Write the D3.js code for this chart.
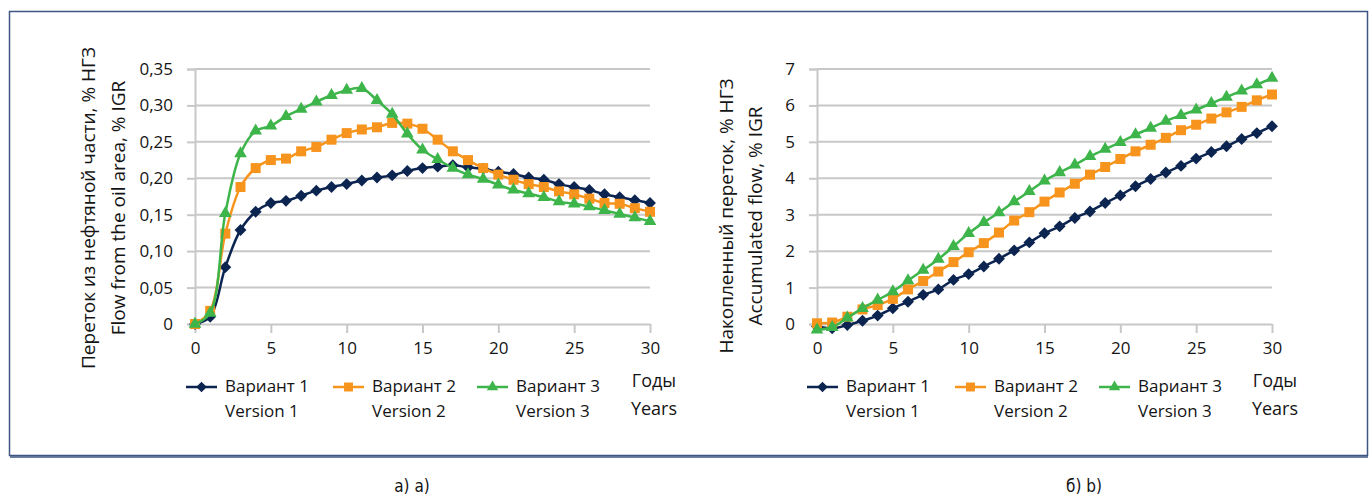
<!DOCTYPE html>
<html>
<head>
<meta charset="utf-8">
<script src="https://cdn.jsdelivr.net/npm/d3@7"></script>
<style>
  body { margin: 0; background: #fff; }
  text { font-family: "Open Sans", sans-serif; fill: #141414; }
</style>
</head>
<body>
<svg id="chart"></svg>
<script>
/** Data */
const years = [0,1,2,3,4,5,6,7,8,9,10,11,12,13,14,15,16,17,18,19,20,21,22,23,24,25,26,27,28,29,30];

// panel a) - flow from the oil area, % IGR
const flowV1 = [0,0.010,0.078,0.129,0.154,0.166,0.169,0.176,0.183,0.188,0.192,0.197,0.201,0.204,0.210,0.214,0.216,0.218,0.215,0.213,0.209,0.206,0.201,0.198,0.192,0.188,0.184,0.178,0.174,0.170,0.166];
const flowV2 = [0,0.018,0.124,0.188,0.214,0.225,0.227,0.237,0.243,0.253,0.262,0.267,0.270,0.276,0.275,0.268,0.253,0.237,0.225,0.214,0.205,0.198,0.192,0.188,0.182,0.178,0.172,0.166,0.165,0.159,0.154];
const flowV3 = [0,0.015,0.152,0.234,0.265,0.272,0.285,0.295,0.305,0.314,0.321,0.3235,0.307,0.288,0.261,0.239,0.226,0.214,0.205,0.199,0.191,0.184,0.179,0.174,0.168,0.165,0.161,0.156,0.151,0.146,0.141];

// panel b) - accumulated flow, % IGR
const accV1 = [-0.07,-0.12,-0.03,0.09,0.23,0.43,0.61,0.80,0.95,1.21,1.37,1.58,1.79,2.02,2.24,2.49,2.68,2.91,3.09,3.32,3.53,3.78,3.98,4.16,4.34,4.54,4.72,4.88,5.08,5.24,5.43];
const accV2 = [0.02,0.04,0.20,0.40,0.52,0.69,0.95,1.18,1.44,1.70,1.97,2.22,2.51,2.84,3.07,3.36,3.61,3.85,4.10,4.31,4.53,4.74,4.92,5.11,5.32,5.47,5.64,5.81,5.96,6.14,6.30];
const accV3 = [-0.16,-0.09,0.17,0.43,0.66,0.89,1.19,1.48,1.78,2.13,2.49,2.79,3.06,3.36,3.64,3.93,4.16,4.37,4.60,4.80,4.99,5.20,5.38,5.57,5.73,5.88,6.06,6.23,6.40,6.57,6.75];

const xTicks = [0,5,10,15,20,25,30];
const flowTicks = [0,0.05,0.10,0.15,0.20,0.25,0.30,0.35];
const accTicks = [0,1,2,3,4,5,6,7];

const legendRu = ['Вариант 1', 'Вариант 2', 'Вариант 3'];
const legendEn = ['Version 1', 'Version 2', 'Version 3'];
const colors = ['#0c2550', '#f7941d', '#3db54a'];

/** Canvas */
const width = 1372;
const height = 496;
const svg = d3.select('#chart').attr('width', width).attr('height', height);

// outer frame
svg.append('rect')
    .attr('x', 9.5).attr('y', 11.5)
    .attr('width', 1358).attr('height', 444)
    .attr('fill', 'none')
    .attr('stroke', '#3d5683')
    .attr('stroke-width', 1.5);
svg.append('line')
    .attr('x1', 10).attr('x2', 1368)
    .attr('y1', 457).attr('y2', 457)
    .attr('stroke', '#3d5683')
    .attr('stroke-width', 1.5);

const symbols = [d3.symbolDiamond2, d3.symbolSquare, d3.symbolTriangle];
const symbolSizes = [90, 100, 70];

/** One panel */
const drawPanel = (p) => {
    const g = svg.append('g');

    const xScale = d3.scaleLinear().domain([0, 30]).range([p.left, p.left + 455]);
    const yScale = d3.scaleLinear().domain(p.yDomain).range([324, 69]);

    // grid
    g.append('g')
        .selectAll('line')
        .data(p.yTicks.slice(1))
        .enter()
        .append('line')
        .attr('x1', p.left).attr('x2', p.left + 455)
        .attr('y1', d => yScale(d)).attr('y2', d => yScale(d))
        .attr('stroke', '#c8c8c8')
        .attr('stroke-width', 2);

    // y axis
    const yAxis = d3.axisLeft(yScale)
        .tickValues(p.yTicks)
        .tickSize(8)
        .tickPadding(p.yPad)
        .tickFormat(p.yFormat);
    const ya = g.append('g')
        .attr('transform', `translate(${p.left}, 0)`)
        .call(yAxis);
    ya.selectAll('path, line').attr('stroke', '#c8c8c8').attr('stroke-width', 2);
    ya.selectAll('text').style('font-size', '17px').attr('fill', '#141414');

    // x axis
    const xAxis = d3.axisBottom(xScale)
        .tickValues(xTicks)
        .tickSize(9)
        .tickPadding(9)
        .tickSizeOuter(0);
    const xa = g.append('g')
        .attr('transform', 'translate(0, 324)')
        .call(xAxis);
    xa.selectAll('path, line').attr('stroke', '#c8c8c8').attr('stroke-width', 2);
    xa.selectAll('text').style('font-size', '17px').attr('fill', '#141414');

    // series
    const line = d3.line()
        .x((d, i) => xScale(years[i]))
        .y(d => yScale(d))
        .curve(d3.curveCatmullRom.alpha(0.5));

    p.series.forEach((vals, s) => {
        g.append('path')
            .datum(vals)
            .attr('d', line)
            .attr('fill', 'none')
            .attr('stroke', colors[s])
            .attr('stroke-width', 2.5);

        g.append('g')
            .selectAll('path')
            .data(vals)
            .enter()
            .append('path')
            .attr('d', d3.symbol().type(symbols[s]).size(symbolSizes[s]))
            .attr('transform', (d, i) => `translate(${xScale(years[i])}, ${yScale(d)})`)
            .attr('fill', colors[s]);
    });

    // axis title (two rotated lines)
    p.title.forEach((t, i) => {
        g.append('text')
            .attr('transform', `translate(${p.titleX[i]}, ${p.titleY}) rotate(-90)`)
            .attr('text-anchor', 'middle')
            .attr('dominant-baseline', 'middle')
            .style('font-size', '19px')
            .text(t);
    });

    // legend
    p.legendX.forEach((lx, s) => {
        g.append('line')
            .attr('x1', lx).attr('x2', lx + 31)
            .attr('y1', 387).attr('y2', 387)
            .attr('stroke', colors[s])
            .attr('stroke-width', 2.5);
        g.append('path')
            .attr('d', d3.symbol().type(symbols[s]).size(symbolSizes[s] * 0.8))
            .attr('transform', `translate(${lx + 15.5}, 387)`)
            .attr('fill', colors[s]);
        g.append('text')
            .attr('x', lx + 39).attr('y', 387)
            .attr('dominant-baseline', 'middle')
            .style('font-size', '17px')
            .text(legendRu[s]);
        g.append('text')
            .attr('x', lx + 39).attr('y', 412)
            .attr('dominant-baseline', 'middle')
            .style('font-size', '17px')
            .text(legendEn[s]);
    });

    // x axis unit
    g.append('text')
        .attr('x', p.unitX).attr('y', 382)
        .attr('text-anchor', 'middle')
        .attr('dominant-baseline', 'middle')
        .style('font-size', '18px')
        .text('Годы');
    g.append('text')
        .attr('x', p.unitX).attr('y', 410)
        .attr('text-anchor', 'middle')
        .attr('dominant-baseline', 'middle')
        .style('font-size', '18px')
        .text('Years');

    // caption under the frame
    g.append('text')
        .attr('x', p.captionX).attr('y', 487)
        .attr('text-anchor', 'middle')
        .attr('dominant-baseline', 'middle')
        .style('font-family', '"Liberation Sans Narrow", "DejaVu Sans Condensed", sans-serif')
        .style('font-size', '17px')
        .text(p.caption);
};

drawPanel({
    left: 195,
    yDomain: [0, 0.35],
    yTicks: flowTicks,
    yFormat: d => d === 0 ? '0' : d3.format('.2f')(d).replace('.', ','),
    yPad: 14,
    series: [flowV1, flowV2, flowV3],
    title: ['Переток из нефтяной части, % НГЗ', 'Flow from the oil area, % IGR'],
    titleX: [90, 120],
    titleY: 208,
    legendX: [186, 333, 477],
    unitX: 654,
    caption: 'а) a)',
    captionX: 412
});

drawPanel({
    left: 817,
    yDomain: [0, 7],
    yTicks: accTicks,
    yFormat: d3.format('d'),
    yPad: 14,
    series: [accV1, accV2, accV3],
    title: ['Накопленный переток, % НГЗ', 'Accumulated flow, % IGR'],
    titleX: [728, 757],
    titleY: 216,
    legendX: [807, 955, 1099],
    unitX: 1275,
    caption: 'б) b)',
    captionX: 1084
});
</script>
</body>
</html>
